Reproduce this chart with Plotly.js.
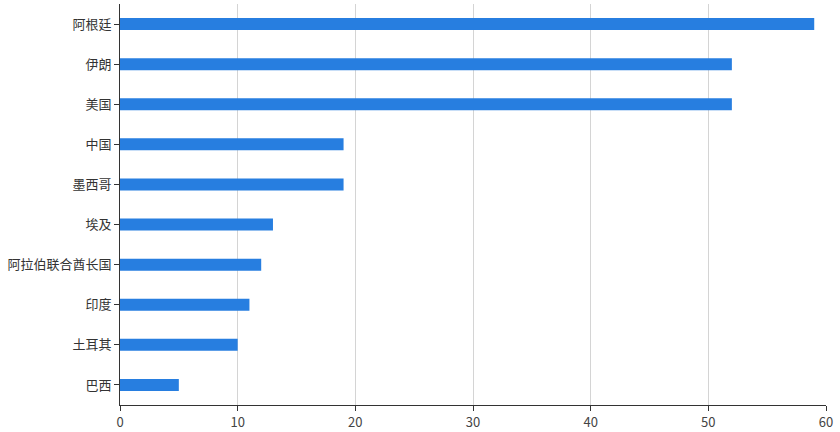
<!DOCTYPE html>
<html><head><meta charset="utf-8">
<script src="https://cdn.plot.ly/plotly-3.0.1.min.js"></script>
<style>html,body{margin:0;padding:0;background:#fff}</style>
</head><body>
<div id="chart" style="width:840px;height:432px"></div>
<script>
const countries = ["阿根廷","伊朗","美国","中国","墨西哥","埃及","阿拉伯联合酋长国","印度","土耳其","巴西"];
const values = [59,52,52,19,19,13,12,11,10,5];
const xTicks = [0,10,20,30,40,50,60];

const trace = {
  type: 'bar', orientation: 'h',
  x: values, y: countries,
  width: 0.3,
  marker: {color: '#277ee0', line: {width: 0}},
  hoverinfo: 'x+y'
};
const font = {family: '"Noto Sans CJK SC", "Noto Sans", sans-serif', size: 12, color: '#333'};
const layout = {
  width: 840, height: 432,
  margin: {l: 120, r: 14, t: 4, b: 27},
  paper_bgcolor: '#fff', plot_bgcolor: '#fff',
  font: font,
  showlegend: false,
  bargap: 0.7,
  xaxis: {
    range: [0, 60], tickvals: xTicks, ticktext: xTicks.map(String),
    showgrid: true, gridcolor: '#d4d4d4', gridwidth: 1,
    zeroline: false, showline: true, linecolor: '#333', linewidth: 1,
    ticks: 'outside', ticklen: 5, tickcolor: '#333',
    tickfont: {family: font.family, size: 13, color: '#444'}
  },
  yaxis: {
    categoryorder: 'array', categoryarray: countries,
    autorange: 'reversed',
    showgrid: false, zeroline: false,
    showline: true, linecolor: '#333', linewidth: 1,
    ticks: 'outside', ticklen: 5, tickcolor: '#333',
    tickfont: {family: font.family, size: 13, color: '#333'}
  }
};
Plotly.newPlot('chart', [trace], layout, {displayModeBar: false, staticPlot: true});
</script>
</body></html>
